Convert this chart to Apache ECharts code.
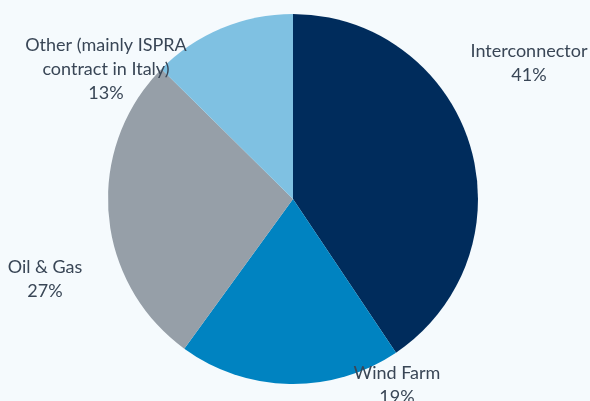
<!DOCTYPE html>
<html>
<head>
<meta charset="utf-8">
<script src="https://cdn.jsdelivr.net/npm/echarts@6/dist/echarts.min.js"></script>
<style>
html,body{margin:0;padding:0;background:#f5fafd;}
#chart{width:590px;height:401px;}
</style>
</head>
<body>
<div id="chart"></div>
<script>
const categories = ['Interconnector', 'Wind Farm', 'Oil & Gas', 'Other (mainly ISPRA\ncontract in Italy)'];
const shares = [40.6, 19.4, 27.4, 12.6];
const colors = ['#002c5c', '#0083c1', '#969fa8', '#7fc1e2'];

const CX = 293, CY = 199, R = 185;
// label block centre offsets from pie centre
const labelOffsets = [[236, -136], [104, 186], [-248, 80], [-187, -130]];

const chart = echarts.init(document.getElementById('chart'));
chart.setOption({
  backgroundColor: '#f5fafd',
  animation: false,
  series: [{
    type: 'pie',
    center: [CX, CY],
    radius: R,
    startAngle: 90,
    clockwise: true,
    percentPrecision: 0,
    avoidLabelOverlap: false,
    data: categories.map((c, i) => ({ name: c, value: shares[i], itemStyle: { color: colors[i] } })),
    label: {
      show: true,
      position: 'outside',
      formatter: '{b}\n{d}%',
      color: '#394656',
      fontFamily: 'Lato',
      fontSize: 18,
      lineHeight: 24,
      align: 'center'
    },
    labelLine: { show: false },
    labelLayout: function (p) {
      const o = labelOffsets[p.dataIndex];
      return { x: CX + o[0], y: CY + o[1], align: 'center', verticalAlign: 'middle' };
    },
    emphasis: { disabled: true }
  }]
});
</script>
</body>
</html>
